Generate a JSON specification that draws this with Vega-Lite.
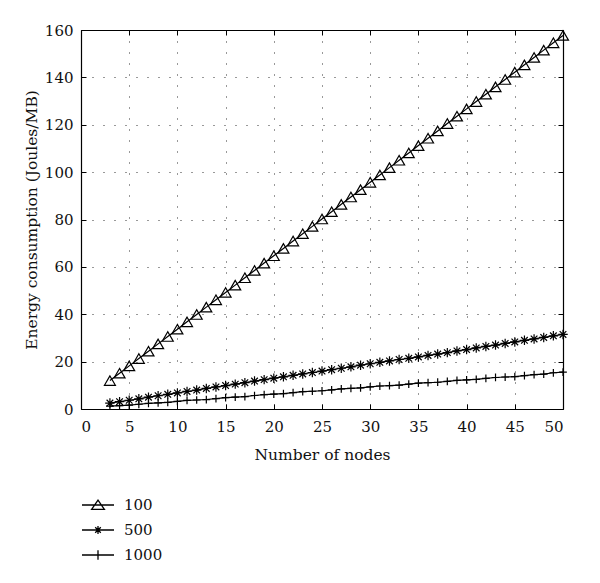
{
  "$schema": "https://vega.github.io/schema/vega-lite/v6.json",
  "width": 482,
  "height": 379,
  "autosize": {"type": "none"},
  "padding": {"left": 81, "top": 30, "right": 37, "bottom": 174},
  "background": "white",
  "config": {
    "view": {"stroke": null},
    "font": "DejaVu Serif",
    "axis": {
      "labelFont": "DejaVu Serif",
      "titleFont": "DejaVu Serif",
      "labelFontSize": 15,
      "titleFontSize": 15.5,
      "titleFontWeight": "normal",
      "labelColor": "#111",
      "titleColor": "#111",
      "domainColor": "#000",
      "domainWidth": 1.2,
      "tickColor": "#000",
      "tickSize": -5,
      "tickWidth": 1,
      "gridColor": "#333",
      "gridDash": [1, 10],
      "gridWidth": 1
    },
    "legend": {
      "labelFont": "DejaVu Serif",
      "labelFontSize": 15,
      "labelColor": "#111"
    }
  },
  "data": {
    "values": [
      {"n":3,"s":"100","e":12.0},{"n":4,"s":"100","e":15.1},{"n":5,"s":"100","e":18.2},{"n":6,"s":"100","e":21.3},{"n":7,"s":"100","e":24.4},{"n":8,"s":"100","e":27.5},{"n":9,"s":"100","e":30.6},{"n":10,"s":"100","e":33.7},{"n":11,"s":"100","e":36.8},{"n":12,"s":"100","e":39.9},{"n":13,"s":"100","e":43.0},{"n":14,"s":"100","e":46.1},{"n":15,"s":"100","e":49.2},{"n":16,"s":"100","e":52.3},{"n":17,"s":"100","e":55.4},{"n":18,"s":"100","e":58.5},{"n":19,"s":"100","e":61.6},{"n":20,"s":"100","e":64.7},{"n":21,"s":"100","e":67.8},{"n":22,"s":"100","e":70.9},{"n":23,"s":"100","e":74.0},{"n":24,"s":"100","e":77.1},{"n":25,"s":"100","e":80.2},{"n":26,"s":"100","e":83.3},{"n":27,"s":"100","e":86.4},{"n":28,"s":"100","e":89.5},{"n":29,"s":"100","e":92.6},{"n":30,"s":"100","e":95.7},{"n":31,"s":"100","e":98.8},{"n":32,"s":"100","e":101.9},{"n":33,"s":"100","e":105.0},{"n":34,"s":"100","e":108.1},{"n":35,"s":"100","e":111.2},{"n":36,"s":"100","e":114.3},{"n":37,"s":"100","e":117.4},{"n":38,"s":"100","e":120.5},{"n":39,"s":"100","e":123.6},{"n":40,"s":"100","e":126.7},{"n":41,"s":"100","e":129.8},{"n":42,"s":"100","e":132.9},{"n":43,"s":"100","e":136.0},{"n":44,"s":"100","e":139.1},{"n":45,"s":"100","e":142.2},{"n":46,"s":"100","e":145.3},{"n":47,"s":"100","e":148.4},{"n":48,"s":"100","e":151.5},{"n":49,"s":"100","e":154.6},{"n":50,"s":"100","e":157.7},
      {"n":3,"s":"500","e":2.5},{"n":4,"s":"500","e":3.1},{"n":5,"s":"500","e":3.7},{"n":6,"s":"500","e":4.3},{"n":7,"s":"500","e":5.0},{"n":8,"s":"500","e":5.6},{"n":9,"s":"500","e":6.2},{"n":10,"s":"500","e":6.8},{"n":11,"s":"500","e":7.4},{"n":12,"s":"500","e":8.0},{"n":13,"s":"500","e":8.7},{"n":14,"s":"500","e":9.3},{"n":15,"s":"500","e":9.9},{"n":16,"s":"500","e":10.5},{"n":17,"s":"500","e":11.1},{"n":18,"s":"500","e":11.8},{"n":19,"s":"500","e":12.4},{"n":20,"s":"500","e":13.0},{"n":21,"s":"500","e":13.6},{"n":22,"s":"500","e":14.2},{"n":23,"s":"500","e":14.8},{"n":24,"s":"500","e":15.4},{"n":25,"s":"500","e":16.0},{"n":26,"s":"500","e":16.6},{"n":27,"s":"500","e":17.2},{"n":28,"s":"500","e":17.8},{"n":29,"s":"500","e":18.5},{"n":30,"s":"500","e":19.1},{"n":31,"s":"500","e":19.7},{"n":32,"s":"500","e":20.3},{"n":33,"s":"500","e":20.9},{"n":34,"s":"500","e":21.4},{"n":35,"s":"500","e":22.0},{"n":36,"s":"500","e":22.6},{"n":37,"s":"500","e":23.2},{"n":38,"s":"500","e":23.8},{"n":39,"s":"500","e":24.5},{"n":40,"s":"500","e":25.1},{"n":41,"s":"500","e":25.8},{"n":42,"s":"500","e":26.4},{"n":43,"s":"500","e":27.0},{"n":44,"s":"500","e":27.7},{"n":45,"s":"500","e":28.3},{"n":46,"s":"500","e":29.0},{"n":47,"s":"500","e":29.6},{"n":48,"s":"500","e":30.2},{"n":49,"s":"500","e":30.9},{"n":50,"s":"500","e":31.5},
      {"n":3,"s":"1000","e":1.2},{"n":4,"s":"1000","e":1.4},{"n":5,"s":"1000","e":1.6},{"n":6,"s":"1000","e":2.0},{"n":7,"s":"1000","e":2.4},{"n":8,"s":"1000","e":2.6},{"n":9,"s":"1000","e":2.8},{"n":10,"s":"1000","e":3.2},{"n":11,"s":"1000","e":3.6},{"n":12,"s":"1000","e":3.8},{"n":13,"s":"1000","e":4.0},{"n":14,"s":"1000","e":4.4},{"n":15,"s":"1000","e":4.8},{"n":16,"s":"1000","e":5.0},{"n":17,"s":"1000","e":5.2},{"n":18,"s":"1000","e":5.7},{"n":19,"s":"1000","e":6.1},{"n":20,"s":"1000","e":6.3},{"n":21,"s":"1000","e":6.5},{"n":22,"s":"1000","e":6.9},{"n":23,"s":"1000","e":7.3},{"n":24,"s":"1000","e":7.5},{"n":25,"s":"1000","e":7.7},{"n":26,"s":"1000","e":8.1},{"n":27,"s":"1000","e":8.5},{"n":28,"s":"1000","e":8.7},{"n":29,"s":"1000","e":8.9},{"n":30,"s":"1000","e":9.3},{"n":31,"s":"1000","e":9.7},{"n":32,"s":"1000","e":9.9},{"n":33,"s":"1000","e":10.1},{"n":34,"s":"1000","e":10.5},{"n":35,"s":"1000","e":10.9},{"n":36,"s":"1000","e":11.1},{"n":37,"s":"1000","e":11.3},{"n":38,"s":"1000","e":11.7},{"n":39,"s":"1000","e":12.1},{"n":40,"s":"1000","e":12.3},{"n":41,"s":"1000","e":12.5},{"n":42,"s":"1000","e":12.9},{"n":43,"s":"1000","e":13.3},{"n":44,"s":"1000","e":13.5},{"n":45,"s":"1000","e":13.7},{"n":46,"s":"1000","e":14.1},{"n":47,"s":"1000","e":14.5},{"n":48,"s":"1000","e":14.7},{"n":49,"s":"1000","e":15.3},{"n":50,"s":"1000","e":15.6}
    ]
  },
  "layer": [
    {
      "mark": {"type": "line", "color": "#000", "strokeWidth": 1.2},
      "encoding": {
        "x": {"field": "n", "type": "quantitative", "scale": {"domain": [0, 50], "nice": false, "zero": false},
              "axis": {"orient": "bottom", "values": [0,5,10,15,20,25,30,35,40,45,50], "title": "Number of nodes", "grid": true, "labelPadding": 15, "titlePadding": 13}},
        "y": {"field": "e", "type": "quantitative", "scale": {"domain": [0, 160], "nice": false},
              "axis": {"orient": "left", "values": [0,20,40,60,80,100,120,140,160], "title": "Energy consumption (Joules/MB)", "grid": true, "labelPadding": 13, "titlePadding": 5}},
        "detail": {"field": "s"}
      }
    },
    {
      "mark": {"type": "point", "filled": false, "stroke": "#000", "strokeWidth": 1.2, "opacity": 1},
      "encoding": {
        "x": {"field": "n", "type": "quantitative", "axis": null},
        "y": {"field": "e", "type": "quantitative", "axis": null},
        "shape": {"field": "s", "type": "nominal", "legend": null,
                  "scale": {"domain": ["100","500","1000"], "range": ["triangle-up", "M0,-1L0,1M-1,0L1,0M-0.7,-0.7L0.7,0.7M-0.7,0.7L0.7,-0.7", "M0,-1L0,1M-1,0L1,0"]}},
        "size": {"field": "s", "type": "nominal", "legend": null,
                 "scale": {"domain": ["100","500","1000"], "range": [120, 60, 70]}}
      }
    },
    {
      "mark": {"type": "point", "filled": false, "stroke": "#000", "strokeWidth": 1.2, "opacity": 0},
      "encoding": {
        "x": {"field": "n", "type": "quantitative", "axis": {"orient": "top", "values": [0,5,10,15,20,25,30,35,40,45,50], "labels": false, "title": null, "grid": false}},
        "y": {"field": "e", "type": "quantitative", "axis": {"orient": "right", "values": [0,20,40,60,80,100,120,140,160], "labels": false, "title": null, "grid": false}},
        "shape": {"field": "s", "type": "nominal",
                  "scale": {"domain": ["100","500","1000"], "range": [
                    "M-2,0L2,0M0,-0.6L0.8,0.55L-0.8,0.55Z",
                    "M-2,0L2,0M0,-0.5L0,0.5M-0.45,0L0.45,0M-0.35,-0.35L0.35,0.35M-0.35,0.35L0.35,-0.35",
                    "M-2,0L2,0M0,-0.6L0,0.6"]},
                  "legend": {"title": null, "orient": "none", "legendX": 8, "legendY": 466, "direction": "vertical",
                             "symbolSize": 256, "symbolStrokeWidth": 1.3, "symbolStrokeColor": "#000", "symbolFillColor": "transparent",
                             "labelOffset": 17, "rowPadding": 8, "padding": 0,
                             "encode": {"symbols": {"update": {"opacity": {"value": 1}, "stroke": {"value": "#000"}, "fill": {"value": "transparent"}}}}}}
      }
    }
  ],
  "resolve": {"axis": {"x": "independent", "y": "independent"}, "scale": {"shape": "independent", "size": "independent"}, "legend": {"shape": "independent"}}
}
